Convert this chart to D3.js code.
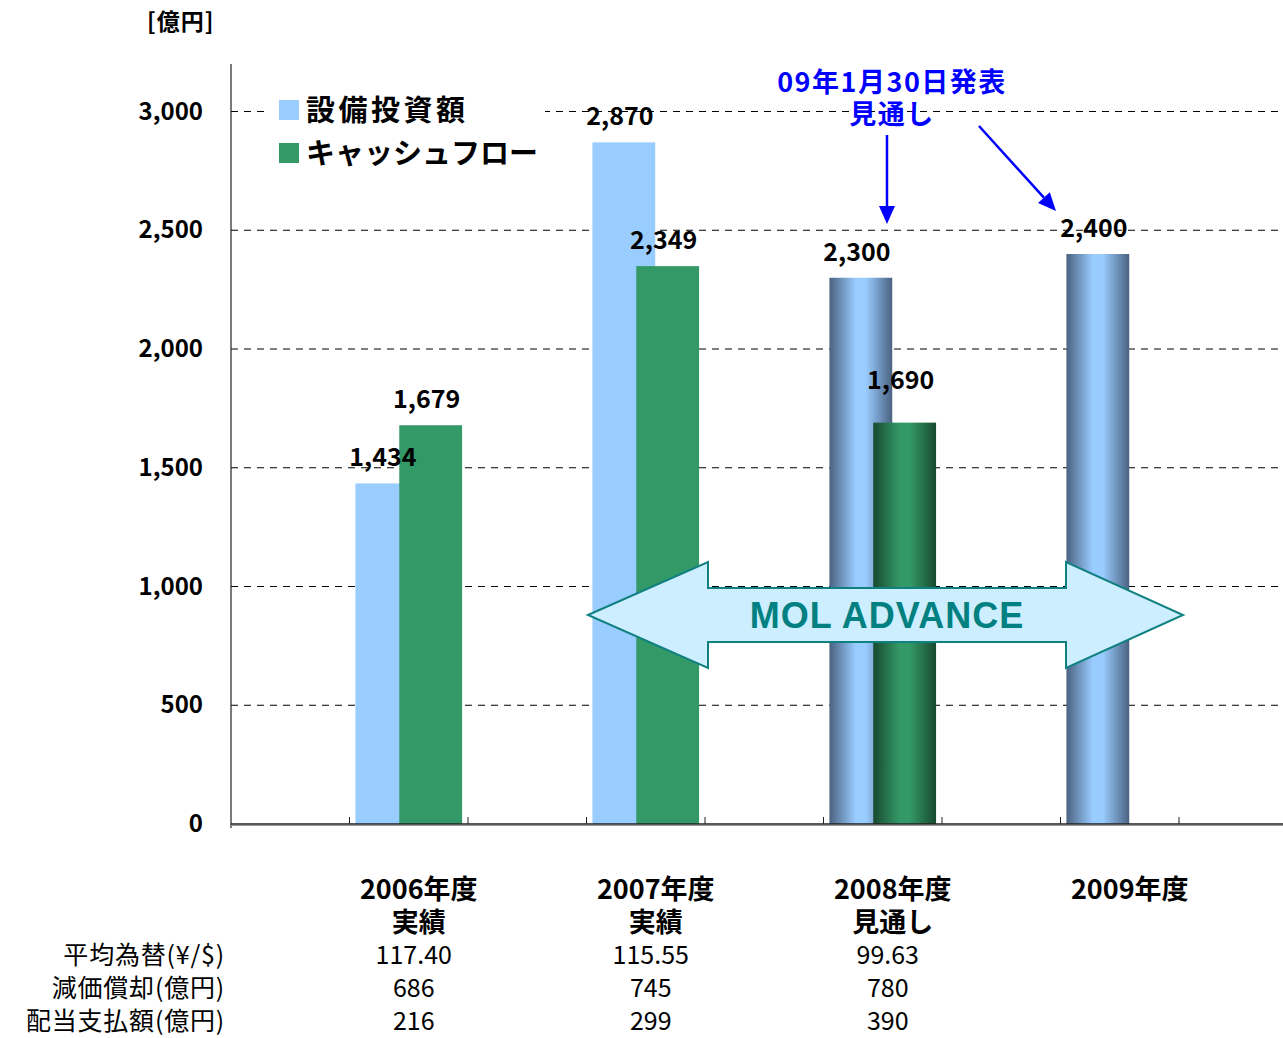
<!DOCTYPE html>
<html>
<head>
<meta charset="utf-8">
<script src="https://cdn.jsdelivr.net/npm/d3@7"></script>
<style>
  body { margin: 0; background: #fff; }
  svg { display: block; font-family: "Noto Sans CJK JP", "Noto Sans", sans-serif; }
</style>
</head>
<body>
<script>
// categories and values
const categories = ["2006年度", "2007年度", "2008年度", "2009年度"];
const subLabels = ["実績", "実績", "見通し", ""];
const capex = [1434, 2870, 2300, 2400];        // 設備投資額
const cashFlow = [1679, 2349, 1690, null];     // キャッシュフロー
const isForecast = [false, false, true, true];
const rowLabels = ["平均為替(¥/$)", "減価償却(億円)", "配当支払額(億円)"];
const fxRate = ["117.40", "115.55", "99.63", ""];
const depreciation = ["686", "745", "780", ""];
const dividends = ["216", "299", "390", ""];
const yTicks = [0, 500, 1000, 1500, 2000, 2500, 3000];
const seriesNames = ["設備投資額", "キャッシュフロー"];

const width = 1283, height = 1038;
const margin = { top: 64, left: 231, bottom: 824 };

const svg = d3.select("body").append("svg")
    .attr("width", width)
    .attr("height", height);

// slots: empty spacer bands between categories (like the original axis)
const slots = [];
categories.forEach((c, i) => { slots.push("gap" + i); slots.push(c); });
slots.push("gap_end");

const x = d3.scaleBand()
    .domain(slots)
    .range([margin.left, margin.left + 118.5 * slots.length]);

const y = d3.scaleLinear()
    .domain([0, 3200])
    .range([margin.bottom, margin.top]);

const bw = x.bandwidth();
const barW = bw * 0.53;

// gradients for forecast bars
const defs = svg.append("defs");
function hGrad(id, edge, mid) {
    const g = defs.append("linearGradient").attr("id", id)
        .attr("x1", "0%").attr("x2", "100%").attr("y1", "0%").attr("y2", "0%");
    g.append("stop").attr("offset", "0%").attr("stop-color", edge);
    g.append("stop").attr("offset", "42%").attr("stop-color", mid);
    g.append("stop").attr("offset", "58%").attr("stop-color", mid);
    g.append("stop").attr("offset", "100%").attr("stop-color", edge);
}
hGrad("gBlue", "#4a6281", "#99ccff");
hGrad("gGreen", "#184a30", "#339966");

// gridlines
svg.append("g").selectAll("line")
    .data(yTicks.filter(d => d > 0))
    .join("line")
    .attr("x1", margin.left).attr("x2", width)
    .attr("y1", d => y(d)).attr("y2", d => y(d))
    .attr("stroke", "#000")
    .attr("stroke-width", 1)
    .attr("stroke-dasharray", "7,6");

// y tick labels
svg.append("g").selectAll("text")
    .data(yTicks)
    .join("text")
    .attr("x", 203)
    .attr("y", d => y(d) + 8)
    .attr("text-anchor", "end")
    .attr("font-size", 24)
    .attr("font-weight", "bold")
    .text(d => d3.format(",")(d));

svg.append("text")
    .attr("x", 147).attr("y", 30)
    .attr("font-size", 23).attr("font-weight", "bold")
    .attr("letter-spacing", 1)
    .text("[億円]");

// bars
const bars = svg.append("g");
categories.forEach((c, i) => {
    const x0 = x(c);
    bars.append("rect")
        .attr("x", x0 + bw * 0.05)
        .attr("y", y(capex[i]))
        .attr("width", barW)
        .attr("height", y(0) - y(capex[i]))
        .attr("fill", isForecast[i] ? "url(#gBlue)" : "#99ccff");
    if (cashFlow[i] != null) {
        bars.append("rect")
            .attr("x", x0 + bw * 0.95 - barW)
            .attr("y", y(cashFlow[i]))
            .attr("width", barW)
            .attr("height", y(0) - y(cashFlow[i]))
            .attr("fill", isForecast[i] ? "url(#gGreen)" : "#339966");
    }
});

// axes lines
svg.append("line")
    .attr("x1", margin.left).attr("x2", margin.left)
    .attr("y1", margin.top).attr("y2", margin.bottom + 4)
    .attr("stroke", "#222").attr("stroke-width", 1.2);
svg.append("line")
    .attr("x1", margin.left).attr("x2", width)
    .attr("y1", margin.bottom).attr("y2", margin.bottom)
    .attr("stroke", "#222").attr("stroke-width", 1.5);
svg.append("line")
    .attr("x1", margin.left).attr("x2", width)
    .attr("y1", margin.bottom + 1.5).attr("y2", margin.bottom + 1.5)
    .attr("stroke", "#999").attr("stroke-width", 1);
svg.append("g").selectAll("line")
    .data(slots.slice(1))
    .join("line")
    .attr("x1", d => x(d)).attr("x2", d => x(d))
    .attr("y1", margin.bottom - 7).attr("y2", margin.bottom)
    .attr("stroke", "#222");

// MOL ADVANCE double arrow
const ay = y(880);
const arrowPts = [
    [588, ay], [708, ay - 53], [708, ay - 27], [1066, ay - 27], [1066, ay - 53],
    [1183, ay], [1066, ay + 53], [1066, ay + 27], [708, ay + 27], [708, ay + 53]
];
svg.append("path")
    .attr("d", d3.line()(arrowPts) + "Z")
    .attr("fill", "#cdeeff")
    .attr("stroke", "#108080")
    .attr("stroke-width", 2);
svg.append("text")
    .attr("x", 887).attr("y", ay + 13)
    .attr("text-anchor", "middle")
    .attr("font-family", "'Liberation Sans', Arial, sans-serif")
    .attr("font-size", 36).attr("font-weight", "bold")
    .attr("letter-spacing", 1)
    .attr("fill", "#008080")
    .text("MOL ADVANCE");

// value labels
const labels = svg.append("g")
    .attr("font-size", 25).attr("font-weight", "bold")
    .attr("text-anchor", "middle");
categories.forEach((c, i) => {
    const x0 = x(c);
    labels.append("text")
        .attr("x", x0 + bw * 0.05 + barW / 2 - 4)
        .attr("y", y(capex[i]) - 17)
        .text(d3.format(",")(capex[i]));
    if (cashFlow[i] != null) {
        labels.append("text")
            .attr("x", x0 + bw * 0.95 - barW / 2 - 4)
            .attr("y", y(cashFlow[i]) - (isForecast[i] ? 34 : 17))
            .text(d3.format(",")(cashFlow[i]));
    }
});

// legend
const legend = svg.append("g");
legend.append("rect")
    .attr("x", 268).attr("y", 88).attr("width", 277).attr("height", 84)
    .attr("fill", "#fff");
const legendColors = ["#99ccff", "#339966"];
const legendSpacing = [3.5, 0];
seriesNames.forEach((s, i) => {
    legend.append("rect")
        .attr("x", 279).attr("y", 100 + i * 43)
        .attr("width", 20).attr("height", 20)
        .attr("fill", legendColors[i]);
    legend.append("text")
        .attr("x", 306).attr("y", 121 + i * 43)
        .attr("font-size", 29).attr("font-weight", "bold")
        .attr("letter-spacing", legendSpacing[i])
        .text(s);
});

// annotation
const note = svg.append("g").attr("fill", "#0000ff");
note.append("text")
    .attr("x", 892).attr("y", 92)
    .attr("text-anchor", "middle")
    .attr("font-size", 27).attr("font-weight", "bold")
    .attr("letter-spacing", 1.5)
    .text("09年1月30日発表");
note.append("text")
    .attr("x", 892).attr("y", 124)
    .attr("text-anchor", "middle")
    .attr("font-size", 27).attr("font-weight", "bold")
    .attr("letter-spacing", 1.5)
    .text("見通し");

function arrow(x1, y1, x2, y2) {
    const ang = Math.atan2(y2 - y1, x2 - x1);
    const len = 18, half = 8;
    const bx = x2 - len * Math.cos(ang), by = y2 - len * Math.sin(ang);
    note.append("line")
        .attr("x1", x1).attr("y1", y1).attr("x2", bx).attr("y2", by)
        .attr("stroke", "#0000ff").attr("stroke-width", 2.5);
    note.append("path")
        .attr("d", d3.line()([
            [x2, y2],
            [bx + half * Math.sin(ang), by - half * Math.cos(ang)],
            [bx - half * Math.sin(ang), by + half * Math.cos(ang)]
        ]) + "Z");
}
arrow(887, 135, 887, 224);
arrow(979, 126, 1056, 211);

// category labels
const catG = svg.append("g")
    .attr("font-size", 27).attr("font-weight", "bold")
    .attr("text-anchor", "middle");
categories.forEach((c, i) => {
    const cx = x(c) + bw / 2 + 10;
    catG.append("text").attr("x", cx).attr("y", 899).text(c);
    if (subLabels[i]) catG.append("text").attr("x", cx).attr("y", 932).text(subLabels[i]);
});

// table rows below
const rows = [fxRate, depreciation, dividends];
const tbl = svg.append("g").attr("font-size", 25);
rowLabels.forEach((lab, r) => {
    const ry = 964 + r * 33;
    tbl.append("text")
        .attr("x", 225).attr("y", ry)
        .attr("text-anchor", "end")
        .attr("letter-spacing", 0.8)
        .text(lab);
    rows[r].forEach((v, i) => {
        if (!v) return;
        tbl.append("text")
            .attr("x", x(categories[i]) + bw / 2 + 5)
            .attr("y", ry)
            .attr("text-anchor", "middle")
            .text(v);
    });
});
</script>
</body>
</html>
